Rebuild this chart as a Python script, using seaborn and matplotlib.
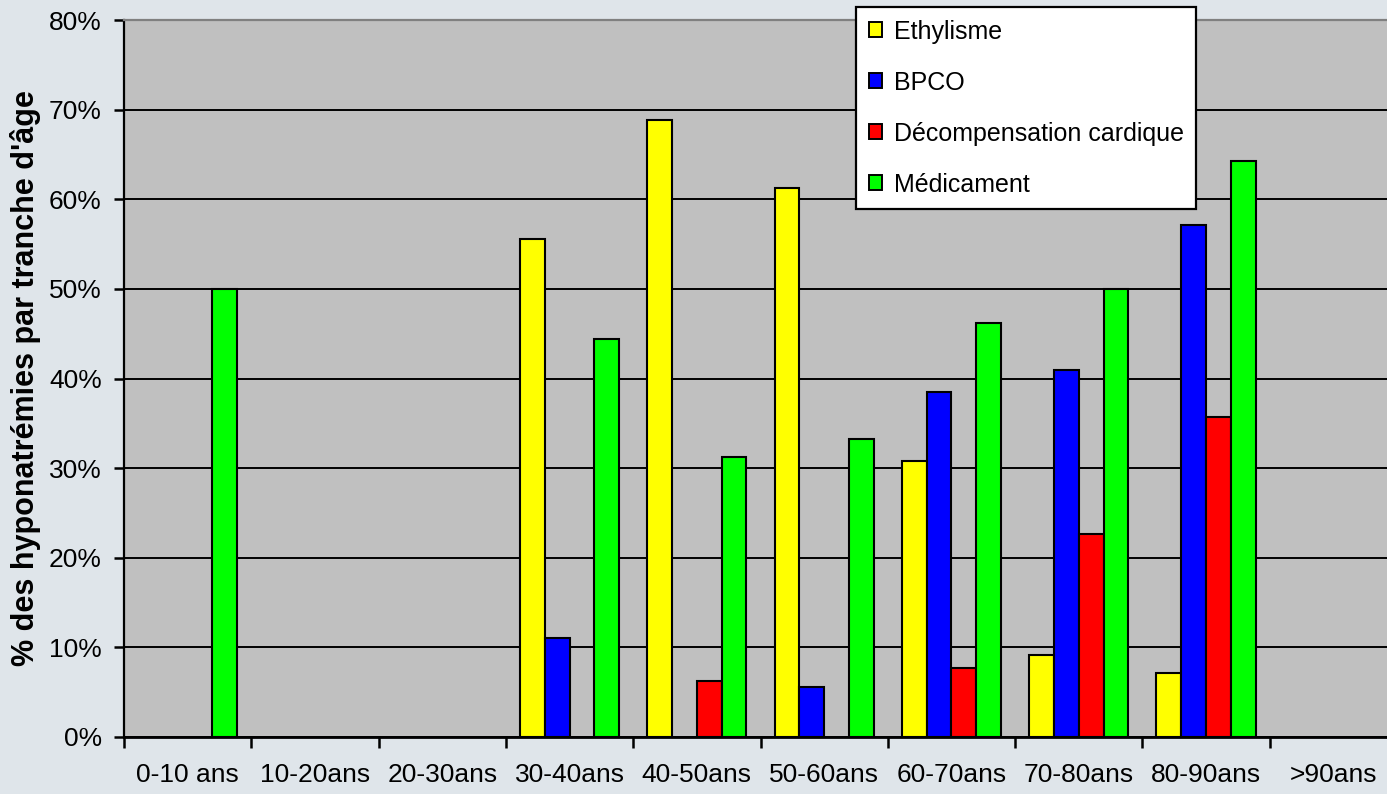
import matplotlib
matplotlib.use("Agg")
import matplotlib.pyplot as plt
import matplotlib.ticker as mticker
import numpy as np
import pandas as pd
import seaborn as sns

# data (fraction of hyponatremias per age band)
tranches = ['0-10 ans', '10-20ans', '20-30ans', '30-40ans', '40-50ans',
            '50-60ans', '60-70ans', '70-80ans', '80-90ans', '>90ans']
causes = ['Ethylisme', 'BPCO', 'Décompensation cardique', 'Médicament']
ethylisme = [np.nan, np.nan, np.nan, 0.556, 0.688, 0.613, 0.308, 0.091, 0.071, np.nan]
bpco = [np.nan, np.nan, np.nan, 0.111, np.nan, 0.056, 0.385, 0.409, 0.571, np.nan]
decompensation = [np.nan, np.nan, np.nan, np.nan, 0.0625, np.nan, 0.077, 0.227, 0.357, np.nan]
medicament = [0.50, np.nan, np.nan, 0.444, 0.3125, 0.333, 0.462, 0.50, 0.643, np.nan]
couleurs = ['#FFFF00', '#0000FF', '#FF0000', '#00FF00']

series = [ethylisme, bpco, decompensation, medicament]
rows = []
for cause, vals in zip(causes, series):
    for t, v in zip(tranches, vals):
        rows.append({'Tranche': t, 'Cause': cause, 'Valeur': v})
df = pd.DataFrame(rows).dropna()

sns.set_theme(style="white")
plt.rcParams['font.family'] = ['Liberation Sans', 'DejaVu Sans']
plt.rcParams['text.color'] = 'black'

fig = plt.figure(figsize=(13.87, 7.94), dpi=100, facecolor='#dfe5ea')
ax = fig.add_axes([124 / 1387, 1 - 737 / 794, (1387 - 124) / 1387, (737 - 20) / 794])
ax.set_facecolor('#C0C0C0')

sns.barplot(data=df, x='Tranche', y='Valeur', hue='Cause', order=tranches,
            hue_order=causes, palette=dict(zip(causes, couleurs)), width=0.78,
            edgecolor='black', linewidth=1.5, saturation=1, errorbar=None, ax=ax)

ax.set_xticks(np.arange(-0.5, 10, 1.0), minor=True)
ax.set_ylim(0, 0.8)
ax.set_xlim(-0.5, -0.5 + (1387 - 124) / 127.3)
ax.yaxis.set_major_locator(mticker.MultipleLocator(0.1))
ax.yaxis.set_major_formatter(mticker.PercentFormatter(1.0, decimals=0))
ax.set_axisbelow(True)
ax.yaxis.grid(True, color='black', linewidth=1.4)
ax.xaxis.grid(False)

for s in ['left', 'bottom']:
    ax.spines[s].set_color('black')
ax.spines['left'].set_linewidth(1.6)
ax.spines['bottom'].set_linewidth(2.0)
ax.spines['top'].set_color('#808080')
ax.spines['top'].set_linewidth(1.6)
ax.spines['right'].set_visible(False)

ax.tick_params(axis='x', which='minor', bottom=True, length=8, width=1.8, color='black', direction='out')
ax.tick_params(axis='x', which='major', bottom=False, length=0, pad=19, labelsize=19, labelcolor='black')
ax.tick_params(axis='y', left=True, length=7, width=1.8, color='black', direction='out',
               pad=9, labelsize=19, labelcolor='black')

ax.set_xlabel('')
ax.set_ylabel("% des hyponatrémies par tranche d'âge", fontsize=22, fontweight='bold',
              color='black', labelpad=6)

handles, labels = ax.get_legend_handles_labels()
leg = ax.legend(handles, labels, loc='upper left', bbox_to_anchor=(856 / 1387, 1 - 7 / 794),
                bbox_transform=fig.transFigure, borderaxespad=0, frameon=True, fancybox=False,
                fontsize=18, handlelength=0.55, handleheight=0.55, handletextpad=0.45,
                labelspacing=1.08, borderpad=0.5, framealpha=1)
leg.get_frame().set_edgecolor('black')
leg.get_frame().set_linewidth(1.6)
leg.get_frame().set_facecolor('white')
for txt in leg.get_texts():
    txt.set_color('black')
for h in leg.get_patches():
    h.set_edgecolor('black')
    h.set_linewidth(1.4)

fig.savefig('out.png', dpi=100, facecolor=fig.get_facecolor())
